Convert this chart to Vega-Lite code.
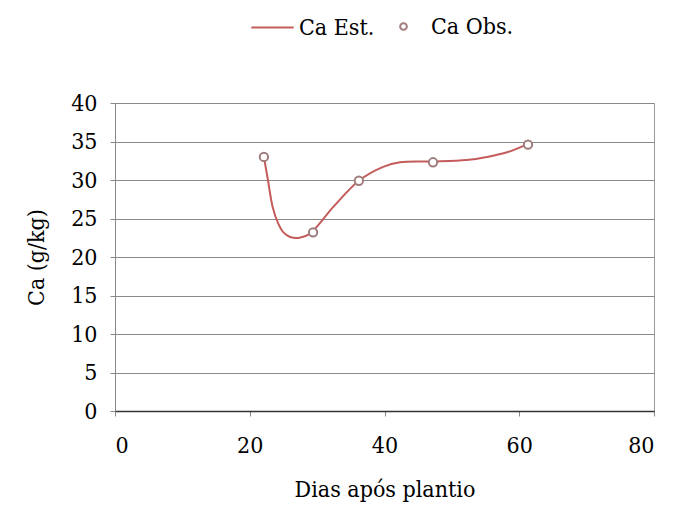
{
  "$schema": "https://vega.github.io/schema/vega-lite/v6.json",
  "width": 539,
  "height": 308,
  "autosize": {"type": "none"},
  "padding": {"left": 115, "top": 103, "right": 21, "bottom": 107},
  "background": "white",
  "config": {
    "view": {"stroke": "#9a9a9a", "strokeWidth": 1},
    "axis": {"labelFont": "DejaVu Serif Condensed", "titleFont": "DejaVu Serif Condensed", "labelColor": "#000", "titleColor": "#000", "titleFontWeight": "normal", "labelFontSize": 23, "titleFontSize": 23},
    "legend": {"labelFont": "DejaVu Serif Condensed", "labelFontSize": 23, "labelColor": "#000"}
  },
  "datasets": {
    "est": [
      {"dias": 22.1, "ca": 33.0, "serie_est": "Ca Est."},
      {"dias": 22.7, "ca": 30.0, "serie_est": "Ca Est."},
      {"dias": 23.4, "ca": 26.5, "serie_est": "Ca Est."},
      {"dias": 24.2, "ca": 24.4, "serie_est": "Ca Est."},
      {"dias": 25.0, "ca": 23.2, "serie_est": "Ca Est."},
      {"dias": 26.0, "ca": 22.6, "serie_est": "Ca Est."},
      {"dias": 27.4, "ca": 22.5, "serie_est": "Ca Est."},
      {"dias": 28.9, "ca": 23.0, "serie_est": "Ca Est."},
      {"dias": 32.5, "ca": 26.6, "serie_est": "Ca Est."},
      {"dias": 36.2, "ca": 29.9, "serie_est": "Ca Est."},
      {"dias": 39.8, "ca": 31.7, "serie_est": "Ca Est."},
      {"dias": 42.3, "ca": 32.3, "serie_est": "Ca Est."},
      {"dias": 47.2, "ca": 32.4, "serie_est": "Ca Est."},
      {"dias": 52.2, "ca": 32.6, "serie_est": "Ca Est."},
      {"dias": 55.2, "ca": 33.0, "serie_est": "Ca Est."},
      {"dias": 58.2, "ca": 33.6, "serie_est": "Ca Est."},
      {"dias": 61.3, "ca": 34.7, "serie_est": "Ca Est."}
    ],
    "obs": [
      {"dias": 22.1, "ca": 33.0, "serie_obs": "Ca Obs."},
      {"dias": 29.4, "ca": 23.2, "serie_obs": "Ca Obs."},
      {"dias": 36.2, "ca": 29.9, "serie_obs": "Ca Obs."},
      {"dias": 47.2, "ca": 32.3, "serie_obs": "Ca Obs."},
      {"dias": 61.3, "ca": 34.6, "serie_obs": "Ca Obs."}
    ]
  },
  "encoding": {
    "x": {"field": "dias", "type": "quantitative", "scale": {"domain": [0, 80], "nice": false, "zero": false},
      "axis": {"title": "Dias após plantio", "values": [0, 20, 40, 60, 80], "grid": false, "domain": true, "domainColor": "#333", "domainWidth": 1.5, "tickColor": "#888", "tickSize": 5, "labelPadding": 18, "titlePadding": 21}},
    "y": {"field": "ca", "type": "quantitative", "scale": {"domain": [0, 40], "nice": false},
      "axis": {"title": "Ca (g/kg)", "values": [0, 5, 10, 15, 20, 25, 30, 35, 40], "grid": true, "gridColor": "#8a8a8a", "gridWidth": 1, "domainColor": "#888", "tickColor": "#888", "tickSize": 5, "labelPadding": 13, "titlePadding": 22}}
  },
  "layer": [
    {
      "data": {"name": "est"},
      "mark": {"type": "line", "interpolate": "catmull-rom", "strokeWidth": 2},
      "encoding": {
        "color": {"field": "serie_est", "type": "nominal", "scale": {"range": ["#c45c5c"]},
          "legend": {"title": null, "orient": "none", "legendX": 135, "legendY": -98, "symbolType": "stroke", "symbolSize": 1800, "labelOffset": 4, "symbolStrokeWidth": 2}}
      }
    },
    {
      "data": {"name": "obs"},
      "mark": {"type": "point", "filled": false, "fill": "white", "size": 70, "strokeWidth": 2, "opacity": 1},
      "encoding": {
        "stroke": {"field": "serie_obs", "type": "nominal", "scale": {"range": ["#a07c7c"]},
          "legend": {"title": null, "orient": "none", "legendX": 277, "legendY": -88, "symbolType": "circle", "symbolSize": 45, "symbolStrokeWidth": 2, "labelOffset": 16}}
      }
    }
  ]
}
